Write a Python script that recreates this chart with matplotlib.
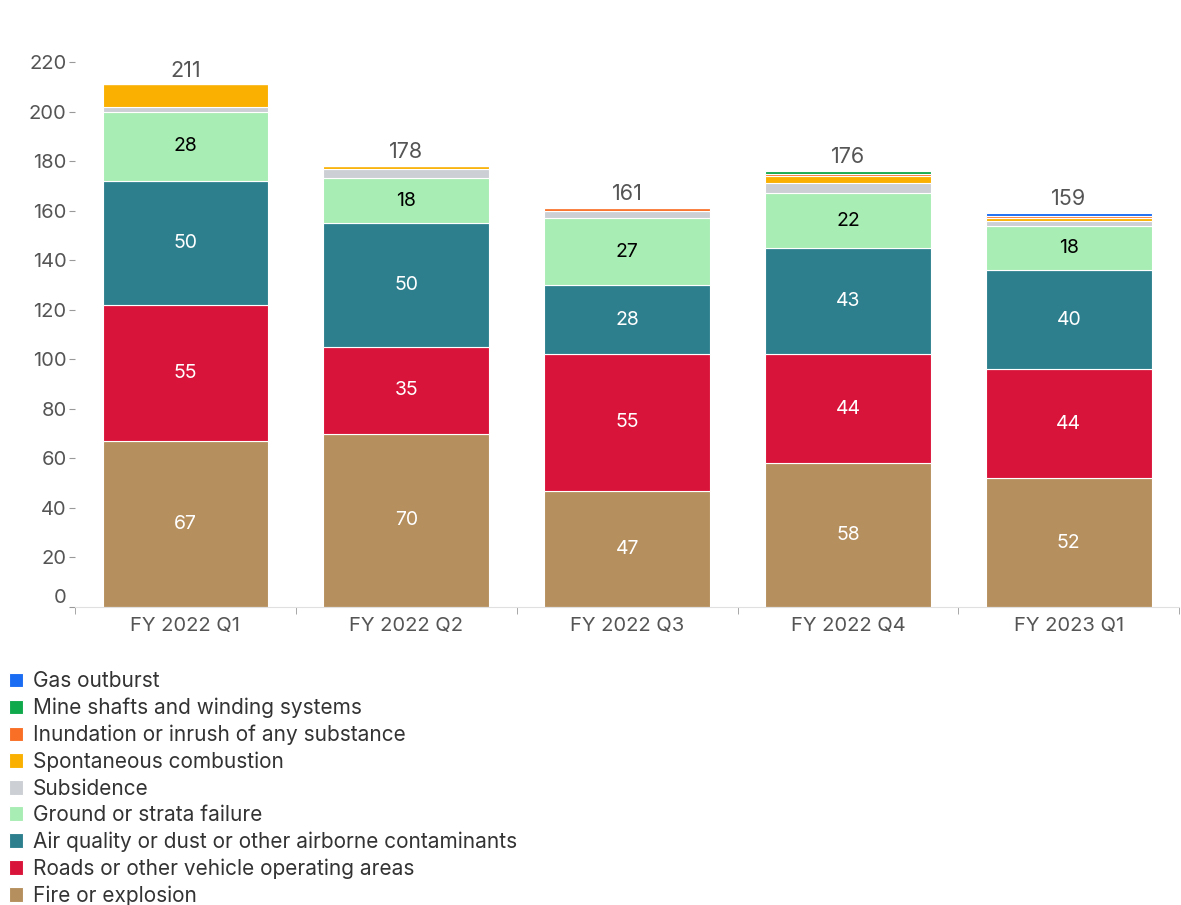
import matplotlib.pyplot as plt
import numpy as np

plt.rcParams['font.family'] = ['Inter', 'DejaVu Sans']

quarters = ['FY 2022 Q1', 'FY 2022 Q2', 'FY 2022 Q3', 'FY 2022 Q4', 'FY 2023 Q1']

# stacked from bottom to top
fire = [67, 70, 47, 58, 52]
roads = [55, 35, 55, 44, 44]
air = [50, 50, 28, 43, 40]
ground = [28, 18, 27, 22, 18]
subsidence = [2, 4, 3, 4, 2]
spontaneous = [9, 1, 0, 3, 1]
inundation = [0, 0, 1, 1, 1]
mine_shafts = [0, 0, 0, 1, 0]
gas = [0, 0, 0, 0, 1]
totals = [211, 178, 161, 176, 159]

series = [
    ('Fire or explosion', fire, '#b58f5e', 'white'),
    ('Roads or other vehicle operating areas', roads, '#d9143a', 'white'),
    ('Air quality or dust or other airborne contaminants', air, '#2e7f8e', 'white'),
    ('Ground or strata failure', ground, '#a8edb3', 'black'),
    ('Subsidence', subsidence, '#ccd0d4', None),
    ('Spontaneous combustion', spontaneous, '#f9b000', None),
    ('Inundation or inrush of any substance', inundation, '#f96f26', None),
    ('Mine shafts and winding systems', mine_shafts, '#0fa84a', None),
    ('Gas outburst', gas, '#1a6cf2', None),
]

fig = plt.figure(figsize=(11.81, 9.05), dpi=100)
ax = fig.add_axes([0.0635, 0.3293, 0.935, 0.635])

x = np.arange(len(quarters))
bottom = np.zeros(len(quarters))
handles = []
for name, vals, color, txtcolor in series:
    vals = np.array(vals, dtype=float)
    bars = ax.bar(x, vals, 0.75, bottom=bottom, color=color, edgecolor='white',
                  linewidth=0.8, label=name)
    handles.append(bars)
    if txtcolor:
        for xi, b, v in zip(x, bottom, vals):
            ax.text(xi, b + v / 2, str(int(v)), ha='center', va='center',
                    color=txtcolor, fontsize=14)
    bottom += vals

for xi, t in zip(x, totals):
    ax.text(xi, t + 1.5, str(t), ha='center', va='bottom', color='#555555', fontsize=15.5)

ax.set_xlim(-0.5, len(quarters) - 0.5)
ax.set_ylim(0, 232)
ax.set_yticks(range(0, 221, 20))
ax.set_yticklabels(['0'] + [str(v) for v in range(20, 221, 20)])
ax.set_xticks(x)
ax.set_xticklabels(quarters)
ax.set_xticks(np.arange(-0.5, len(quarters), 1), minor=True)
ax.tick_params(axis='x', which='major', length=0, labelsize=14.5, labelcolor='#555555', pad=7)
ax.tick_params(axis='x', which='minor', length=5, color='#999999')
ax.tick_params(axis='y', length=4, color='#999999', labelsize=14.5, labelcolor='#555555', pad=2)
ax.get_yticklabels()[0].set_va('bottom')

for s in ['top', 'right', 'left']:
    ax.spines[s].set_visible(False)
ax.spines['bottom'].set_color('#e0e0e0')

leg = fig.legend(handles[::-1], [s[0] for s in series][::-1], loc='upper left',
                 bbox_to_anchor=(0.004, 1 - 667 / 905), frameon=False, fontsize=15,
                 handlelength=0.7, handleheight=0.7, handletextpad=0.45,
                 labelspacing=0.31, borderaxespad=0, borderpad=0.2)
for t in leg.get_texts():
    t.set_color('#333333')

fig.savefig('out.png', dpi=100)
